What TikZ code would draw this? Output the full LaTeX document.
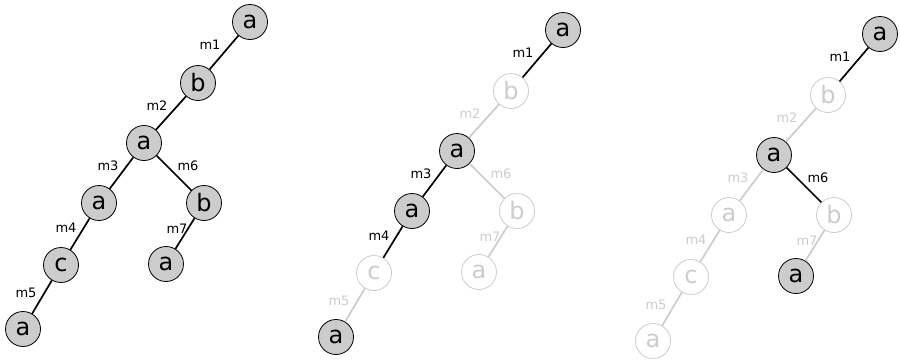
\documentclass[tikz,border=0pt]{standalone}
\usepackage{xcolor}
\usepackage{fontspec}
\setmainfont{DejaVu Sans}
\usepackage{tikz}

\definecolor{nodefill}{HTML}{CCCCCC}
\definecolor{faded}{HTML}{CCCCCC}

\tikzset{
	vtx/.style={circle, draw=black, line width=0.8pt, fill=nodefill, minimum size=35pt, inner sep=0pt, font=\fontsize{24}{28}\selectfont},
	vtxoff/.style={vtx, draw=faded, fill=white, text=faded},
	lnk/.style={line width=1.7pt, black},
	lnkoff/.style={lnk, faded},
	lbl/.style={font=\fontsize{13}{15}\selectfont, inner sep=0pt},
	lbloff/.style={lbl, text=faded}
}

\begin{document}
\begin{tikzpicture} [x=1pt, y=-1pt]
		\useasboundingbox (0,0) rectangle (900,360);
		%----------------------------------------------------
		% First tree: the whole pattern
		%----------------------------------------------------
		\node[vtx] (top1) at (250,22) {a};
		\node[vtx] (bb1) at (198,83) {b};
		\node[vtx] (mid1) at (144,143) {a};
		\node[vtx] (la1) at (99,203) {a};
		\node[vtx] (rb1) at (204,203) {b};
		\node[vtx] (cc1) at (61,265) {c};
		\node[vtx] (ra1) at (166,264) {a};
		\node[vtx] (bot1) at (23,329) {a};
		\draw[lnk] (top1) -- (bb1);
		\draw[lnk] (bb1) -- (mid1);
		\draw[lnk] (mid1) -- (la1);
		\draw[lnk] (la1) -- (cc1);
		\draw[lnk] (cc1) -- (bot1);
		\draw[lnk] (mid1) -- (rb1);
		\draw[lnk] (rb1) -- (ra1);
		\node[lbl] at (210,45) {m1};
		\node[lbl] at (157,106) {m2};
		\node[lbl] at (108,166) {m3};
		\node[lbl] at (66,228) {m4};
		\node[lbl] at (26,293) {m5};
		\node[lbl] at (188,166) {m6};
		\node[lbl] at (177,229) {m7};

		%----------------------------------------------------
		% Second tree: path m1, m3, m4
		%----------------------------------------------------
		\begin{scope}[shift={(313,8)}]
		\node[vtx] (top2) at (250,22) {a};
		\node[vtxoff] (bb2) at (198,83) {b};
		\node[vtx] (mid2) at (144,143) {a};
		\node[vtx] (la2) at (99,203) {a};
		\node[vtxoff] (rb2) at (204,203) {b};
		\node[vtxoff] (cc2) at (61,265) {c};
		\node[vtxoff] (ra2) at (166,264) {a};
		\node[vtx] (bot2) at (23,329) {a};
		\draw[lnk] (top2) -- (bb2);
		\draw[lnkoff] (bb2) -- (mid2);
		\draw[lnk] (mid2) -- (la2);
		\draw[lnk] (la2) -- (cc2);
		\draw[lnkoff] (cc2) -- (bot2);
		\draw[lnkoff] (mid2) -- (rb2);
		\draw[lnkoff] (rb2) -- (ra2);
		\node[lbl] at (210,45) {m1};
		\node[lbloff] at (157,106) {m2};
		\node[lbl] at (108,166) {m3};
		\node[lbl] at (66,228) {m4};
		\node[lbloff] at (26,293) {m5};
		\node[lbloff] at (188,166) {m6};
		\node[lbloff] at (177,229) {m7};
		\end{scope}

		%----------------------------------------------------
		% Third tree: path m1, m6
		%----------------------------------------------------
		\begin{scope}[shift={(630,12)}]
		\node[vtx] (top3) at (250,22) {a};
		\node[vtxoff] (bb3) at (198,83) {b};
		\node[vtx] (mid3) at (144,143) {a};
		\node[vtxoff] (la3) at (99,203) {a};
		\node[vtxoff] (rb3) at (204,203) {b};
		\node[vtxoff] (cc3) at (61,265) {c};
		\node[vtx] (ra3) at (166,264) {a};
		\node[vtxoff] (bot3) at (23,329) {a};
		\draw[lnk] (top3) -- (bb3);
		\draw[lnkoff] (bb3) -- (mid3);
		\draw[lnkoff] (mid3) -- (la3);
		\draw[lnkoff] (la3) -- (cc3);
		\draw[lnkoff] (cc3) -- (bot3);
		\draw[lnk] (mid3) -- (rb3);
		\draw[lnkoff] (rb3) -- (ra3);
		\node[lbl] at (210,45) {m1};
		\node[lbloff] at (157,106) {m2};
		\node[lbloff] at (108,166) {m3};
		\node[lbloff] at (66,228) {m4};
		\node[lbloff] at (26,293) {m5};
		\node[lbl] at (188,166) {m6};
		\node[lbloff] at (177,229) {m7};
		\end{scope}
	\end{tikzpicture}
\end{document}
